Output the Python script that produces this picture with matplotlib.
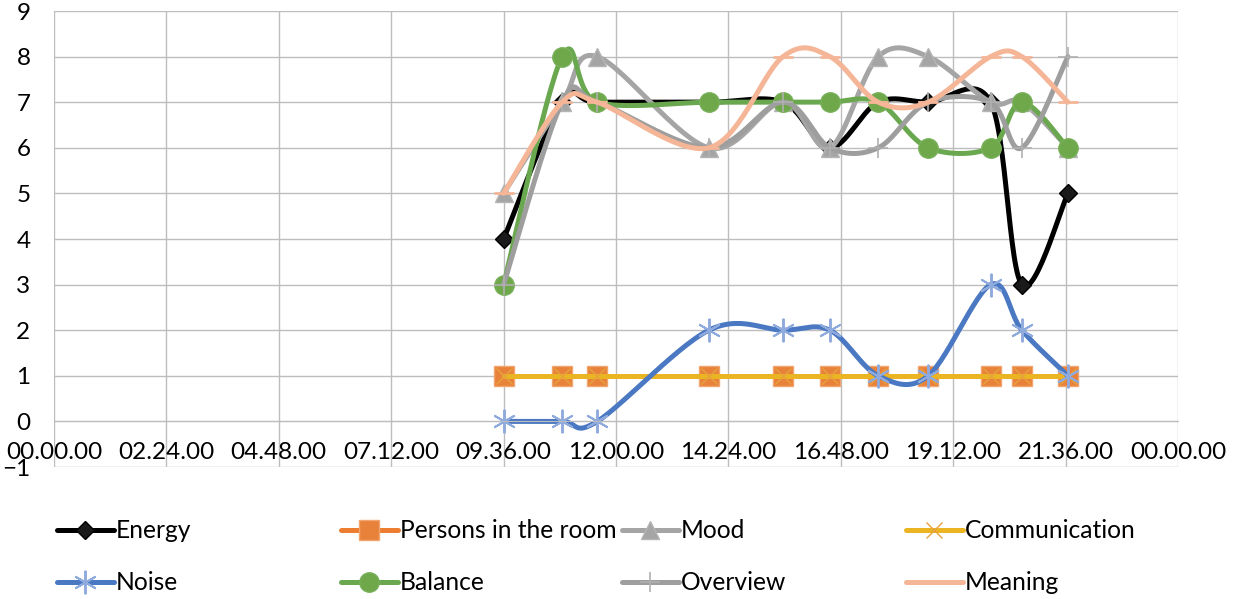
import numpy as np
import matplotlib.pyplot as plt
from matplotlib.ticker import FixedLocator, FuncFormatter, MultipleLocator

plt.rcParams['font.family'] = ['Lato', 'DejaVu Sans']

# time of each observation (hh:mm)
times = ["09:36", "10:51", "11:36", "13:59", "15:34", "16:34",
         "17:36", "18:40", "20:00", "20:40", "21:39"]

energy = [4, 7, 7, 7, 7, 6, 7, 7, 7, 3, 5]
persons = [1, 1, 1, 1, 1, 1, 1, 1, 1, 1, 1]
mood = [5, 7, 8, 6, 7, 6, 8, 8, 7, 7, 6]
communication = [1, 1, 1, 1, 1, 1, 1, 1, 1, 1, 1]
noise = [0, 0, 0, 2, 2, 2, 1, 1, 3, 2, 1]
balance = [3, 8, 7, 7, 7, 7, 7, 6, 6, 7, 6]
overview = [3, 7, 7, 6, 7, 6, 6, 7, 7, 6, 8]
meaning = [5, 7, 7, 6, 8, 8, 7, 7, 8, 8, 7]

names = ["Energy", "Persons in the room", "Mood", "Communication",
         "Noise", "Balance", "Overview", "Meaning"]

hours = np.array([int(t[:2]) + int(t[3:]) / 60 for t in times])

NSEG = 30


def smooth(x, y, sx=46.8, sy=45.6):
    """Excel-like smoothed line (cubic bezier, catmull-rom controls)."""
    p = np.column_stack([np.asarray(x, float) * sx, np.asarray(y, float) * sy])
    p = np.vstack([p[:1], p, p[-1:]])
    t = np.linspace(0, 1, NSEG)[:, None]
    out = []
    for i in range(1, len(p) - 2):
        p0, p1, p2, p3 = p[i - 1], p[i], p[i + 1], p[i + 2]
        c1 = p1 + (p2 - p0) / 6
        c2 = p2 - (p3 - p1) / 6
        seg = ((1 - t) ** 3 * p1 + 3 * (1 - t) ** 2 * t * c1
               + 3 * (1 - t) * t ** 2 * c2 + t ** 3 * p2)
        out.append(seg if i == 1 else seg[1:])
    s = np.vstack(out)
    return s[:, 0] / sx, s[:, 1] / sy


styles = [
    dict(color="#000000", marker="D", ms=9, mfc="#1a1a1a", mec="#000000"),
    dict(color="#ED7D31", marker="s", ms=14, mfc="#E8823A", mec="#F2A56E"),
    dict(color="#A5A5A5", marker="^", ms=13, mfc="#A5A5A5", mec="#B5B5B5"),
    dict(color="#EAB422", marker="x", ms=11, mfc="#F0B84A", mec="#E6A23C", mew=1.0),
    dict(color="#4A78C2", marker=(6, 2, 0), ms=17, mfc="#8FAADC", mec="#8FAADC", mew=1.4),
    dict(color="#6AA84F", marker="o", ms=14, mfc="#6FA84A", mec="#79B05A"),
    dict(color="#9E9E9E", marker="+", ms=14, mfc="#A5A5A5", mec="#B0B0B0", mew=1.2),
    dict(color="#F5B597", marker="_", ms=14, mfc="#F5B597", mec="#F5B597", mew=2),
]
series = [energy, persons, mood, communication, noise, balance, overview, meaning]

fig = plt.figure(figsize=(12.37, 5.99), dpi=100)
ax = fig.add_axes([54 / 1237, 1 - 467 / 599, 1124 / 1237, 456 / 599])

handles = []
for vals, st in zip(series, styles):
    xs, ys = smooth(hours, vals)
    ln, = ax.plot(xs, ys, lw=3.6, markevery=NSEG - 1,
                  solid_capstyle="round", solid_joinstyle="round", **st)
    handles.append(ln)

ax.set_xlim(0, 24)
ax.set_ylim(-1, 9)
ax.xaxis.set_major_locator(FixedLocator(np.arange(11) * 2.4))


def fmt_time(v, pos):
    m = int(round(v * 60)) % (24 * 60)
    return f"{m // 60:02d}.{m % 60:02d}.00"


ax.xaxis.set_major_formatter(FuncFormatter(fmt_time))
ax.yaxis.set_major_locator(MultipleLocator(1))
ax.grid(True, color="#BDBDBD", lw=1.0)
ax.set_axisbelow(True)
for side in ["top", "right", "left"]:
    ax.spines[side].set_visible(False)
ax.spines["bottom"].set_position(("data", 0))
ax.spines["bottom"].set_color("#BDBDBD")
ax.tick_params(axis="x", length=0, pad=15, labelsize=17.5)
ax.tick_params(axis="y", length=0, pad=17, labelsize=17.5)

row_y = [1 - 531 / 599, 1 - 583 / 599]
col_x = [57 / 1237, 341 / 1237, 622 / 1237, 906 / 1237]
for i, (h, name) in enumerate(zip(handles, names)):
    fig.legend(handles=[h], labels=[name], loc="center left",
               bbox_to_anchor=(col_x[i % 4], row_y[i // 4]),
               frameon=False, borderpad=0, borderaxespad=0,
               handlelength=2.3, handletextpad=0.1, fontsize=17.7)

fig.savefig("out.png", dpi=100)
